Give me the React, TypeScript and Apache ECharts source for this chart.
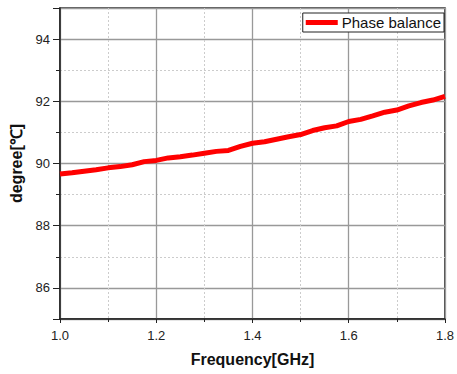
import React, { useEffect, useRef } from "react";
import * as echarts from "echarts";

const freq = [
  1.0, 1.025, 1.05, 1.075, 1.1, 1.125, 1.15, 1.175, 1.2, 1.225, 1.25, 1.275, 1.3, 1.325, 1.35, 1.375,
  1.4, 1.425, 1.45, 1.475, 1.5, 1.525, 1.55, 1.575, 1.6, 1.625, 1.65, 1.675, 1.7, 1.725, 1.75, 1.775, 1.8,
];
const phaseBalance = [
  89.66, 89.7, 89.75, 89.8, 89.86, 89.9, 89.96, 90.06, 90.1, 90.18, 90.22, 90.27, 90.33, 90.39, 90.42, 90.55,
  90.65, 90.7, 90.78, 90.86, 90.93, 91.06, 91.15, 91.21, 91.35, 91.42, 91.53, 91.65, 91.72, 91.85, 91.96, 92.04, 92.16,
];
const yLabels = [86, 88, 90, 92, 94];
const seriesName = "Phase balance";
const xTitle = "Frequency[GHz]";
const yTitle = "degree[℃]";

export default function App() {
  const ref = useRef<HTMLDivElement>(null);
  useEffect(() => {
    if (!ref.current) return;
    const chart = echarts.init(ref.current, null, { renderer: "svg" });
    const font = "Liberation Sans, Arial, sans-serif";
    chart.setOption({
      animation: false,
      backgroundColor: "#fff",
      grid: {
        left: 58,
        right: 12,
        top: 8,
        bottom: 55,
        containLabel: false,
        show: true,
        borderColor: "#222",
        borderWidth: 1.5,
        backgroundColor: "transparent",
      },
      legend: {
        show: true,
        right: 13,
        top: 13,
        orient: "vertical",
        backgroundColor: "#fff",
        borderColor: "#222",
        borderWidth: 1,
        borderRadius: 0,
        padding: [2, 3, 2, 3],
        itemWidth: 32,
        itemHeight: 5,
        itemGap: 2,
        icon: "rect",
        textStyle: { fontFamily: font, fontSize: 15, color: "#111", padding: [0, 0, 0, -1] },
        data: [{ name: seriesName, icon: "rect" }],
      },
      xAxis: [
        {
          type: "value",
          min: 1.0,
          max: 1.8,
          interval: 0.2,
          name: xTitle,
          nameLocation: "middle",
          nameGap: 32,
          nameTextStyle: { fontFamily: font, fontSize: 16, fontWeight: "bold", color: "#111" },
          axisLine: { show: true, onZero: false, lineStyle: { color: "#222", width: 1.5 } },
          axisTick: { show: true, inside: false, length: 4, lineStyle: { color: "#222" } },
          minorTick: { show: true, splitNumber: 2, length: 3, lineStyle: { color: "#222" } },
          axisLabel: {
            fontFamily: font,
            fontSize: 13,
            color: "#222",
            margin: 10,
            formatter: (v: number) => v.toFixed(1),
          },
          splitLine: { show: true, lineStyle: { color: "#999", width: 1.3 } },
          minorSplitLine: { show: true, lineStyle: { color: "#ccc", type: [2, 2], width: 1 } },
        },
      ],
      yAxis: [
        {
          type: "value",
          position: "left",
          offset: 0,
          min: 85,
          max: 95,
          interval: 1,
          axisLine: { show: true, onZero: false, lineStyle: { color: "#222", width: 1.5 } },
          axisTick: { show: true, inside: false, length: 4, lineStyle: { color: "#222" } },
          axisLabel: { show: false },
          splitLine: { show: true, lineStyle: { color: "#ccc", type: [2, 2], width: 1 } },
        },
        {
          type: "value",
          position: "left",
          offset: 0,
          min: 85,
          max: 95,
          splitNumber: 5,
          name: yTitle,
          nameLocation: "middle",
          nameGap: 36,
          nameRotate: 90,
          nameTextStyle: { fontFamily: font, fontSize: 16, fontWeight: "bold", color: "#111" },
          axisLine: { show: false },
          axisTick: { show: true, inside: false, length: 7, lineStyle: { color: "#222" } },
          axisLabel: {
            fontFamily: font,
            fontSize: 13,
            color: "#222",
            margin: 10,
            formatter: (v: number) => (yLabels.indexOf(v) >= 0 ? String(v) : ""),
          },
          splitLine: { show: true, lineStyle: { color: "#999", width: 1.3 } },
        },
      ],
      series: [
        {
          name: seriesName,
          type: "line",
          xAxisIndex: 0,
          yAxisIndex: 1,
          data: freq.map((f, i) => [f, phaseBalance[i]]),
          showSymbol: false,
          symbol: "none",
          lineStyle: { color: "#ff0000", width: 5 },
          itemStyle: { color: "#ff0000" },
        },
      ],
    });
    return () => chart.dispose();
  }, []);
  return <div ref={ref} style={{ width: 457, height: 374, position: "absolute", left: 0, top: 0 }} />;
}
